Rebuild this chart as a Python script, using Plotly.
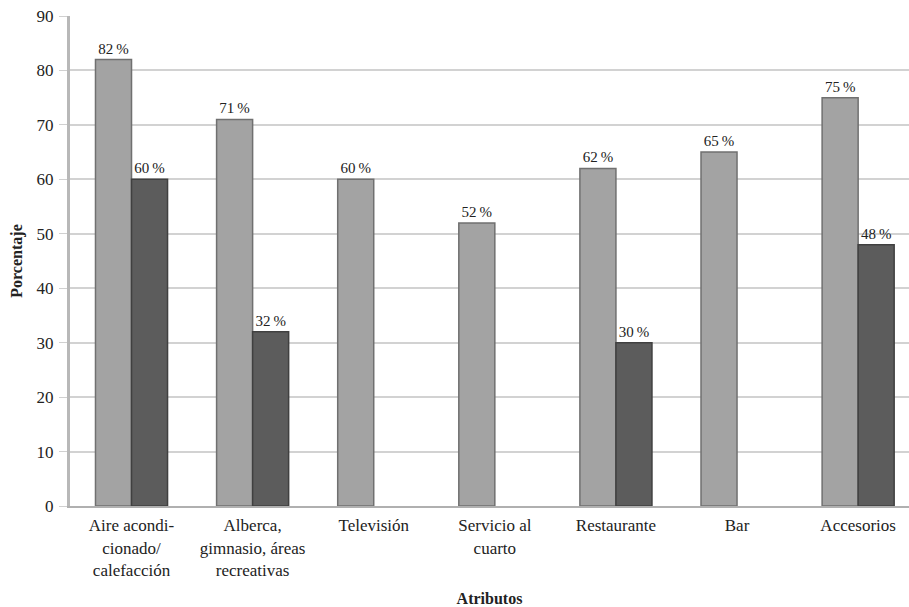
import plotly.graph_objects as go

categories = ["Aire acondi-<br>cionado/<br>calefacción", "Alberca,<br>gimnasio, áreas<br>recreativas",
              "Televisión", "Servicio al<br>cuarto", "Restaurante", "Bar", "Accesorios"]
serie_a = [82, 71, 60, 52, 62, 65, 75]
serie_b = [60, 32, None, None, 30, None, 48]
y_ticks = [0, 10, 20, 30, 40, 50, 60, 70, 80, 90]

FONT = "Liberation Serif"
xpos = list(range(len(categories)))

def labels(vals):
    return ["" if v is None else f"{v}\u2009%" for v in vals]

fig = go.Figure()
fig.add_trace(go.Bar(x=xpos, y=serie_a, text=labels(serie_a), textposition="outside",
                     marker=dict(color="#a3a3a3", line=dict(color="#707070", width=1.5)),
                     textfont=dict(family=FONT, size=15, color="#222"), cliponaxis=False))
fig.add_trace(go.Bar(x=xpos, y=serie_b, text=labels(serie_b), textposition="outside",
                     marker=dict(color="#5c5c5c", line=dict(color="#404040", width=1.5)),
                     textfont=dict(family=FONT, size=15, color="#222"), cliponaxis=False))

fig.update_layout(
    width=909, height=607, barmode="group", bargap=0.405, bargroupgap=0,
    plot_bgcolor="white", paper_bgcolor="white", showlegend=False,
    margin=dict(l=70, r=0, t=16, b=101, autoexpand=False),
    font=dict(family=FONT, size=17, color="#222"),
    xaxis=dict(tickmode="array", tickvals=xpos, ticktext=categories, range=[-0.508, 6.42],
               showgrid=False, showline=True, linecolor="#b0b0b0", linewidth=2,
               tickfont=dict(family=FONT, size=17, color="#222"), ticks="", zeroline=False,
               automargin=False, ticklabelstandoff=3,
               title=dict(text="<b>Atributos</b>", font=dict(family=FONT, size=16), standoff=14)),
    yaxis=dict(range=[0, 90], tickvals=y_ticks, showgrid=True, gridcolor="#d2d2d2", gridwidth=2,
               showline=True, linecolor="#b8b8b8", linewidth=3, zeroline=False,
               ticks="outside", ticklen=8, tickcolor="#d0d0d0", ticklabelstandoff=2,
               automargin=False,
               tickfont=dict(family=FONT, size=17, color="#222"),
               title=dict(text="<b>Porcentaje</b>", font=dict(family=FONT, size=16), standoff=10)),
)
fig.write_html("out.html", post_script="document.body.style.margin='0';",
               config={"displayModeBar": False})
